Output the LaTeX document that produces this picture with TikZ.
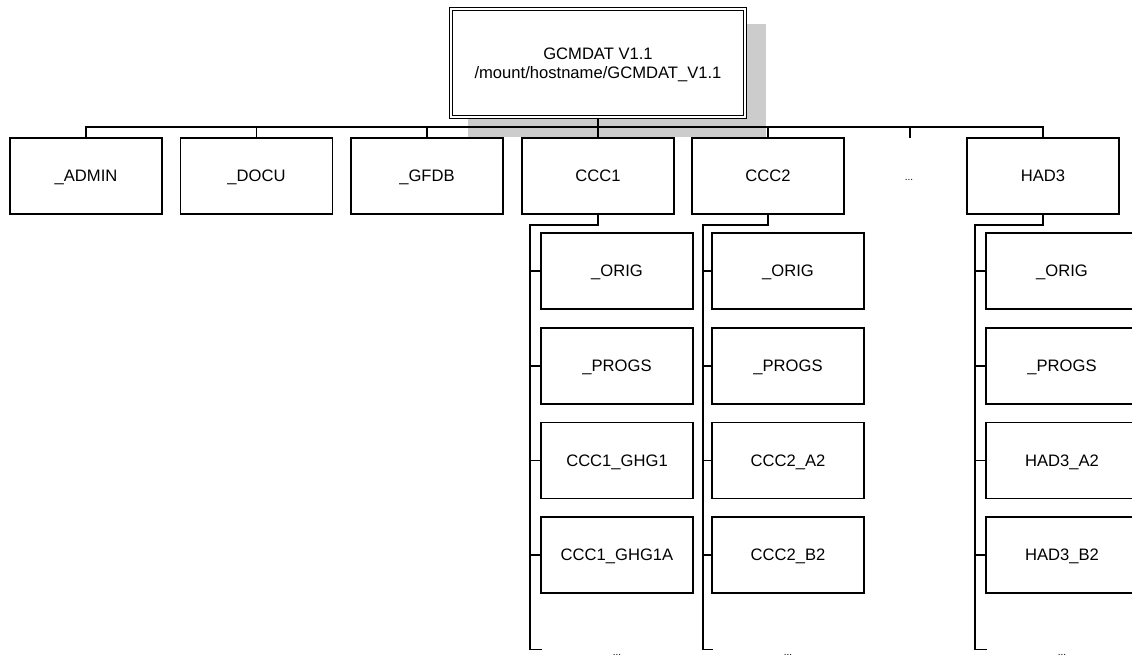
\documentclass[tikz,border=0pt]{standalone}
\usepackage{fontspec}
\setmainfont{Liberation Sans}
\definecolor{shadowc}{RGB}{204,204,204}
\begin{document}
\begin{tikzpicture}[x=1pt,y=-1pt,
  box/.style={draw, fill=white, line width=1.2pt, minimum width=152pt, minimum height=76pt,
    inner sep=0pt, text height=11.8pt, text depth=0pt, font=\fontsize{16.6}{19.5}\selectfont},
  rootbox/.style={draw, fill=white, double, line width=1.1pt, double distance=1.6pt,
    minimum width=294pt, minimum height=108pt, inner sep=0pt, align=center,
    text depth=0pt, font=\fontsize{16.6}{19.5}\selectfont},
  busline/.style={line width=1.4pt},
  trunk/.style={line width=2pt},
  branch/.style={line width=1.2pt},
  dotsn/.style={font=\fontsize{10}{12}\selectfont, inner sep=0pt, anchor=base}]
\clip (0,0) rectangle (1132,657);
\useasboundingbox (0,0) rectangle (1132,657);
% shadow of root
\fill[shadowc] (468,24) rectangle (766,137);
% root
\node[rootbox] (root) at (598,63) {GCMDAT V1.1\\/mount/hostname/GCMDAT\_V1.1};
% level 1
\node[box] (admin) at (86,176) {\_ADMIN};
\node[box] (docu) at (256.5,176) {\_DOCU};
\node[box] (gfdb) at (427,176) {\_GFDB};
\node[box] (ccc1) at (598,176) {CCC1};
\node[box] (ccc2) at (768,176) {CCC2};
\node[dotsn] (lvdots) at (909,180) {...};
\node[box] (had3) at (1043,176) {HAD3};
% bus
\coordinate (bus) at (598,127);
\draw[busline] (admin.north) |- (bus) -| (had3.north);
\draw[trunk] (root.south) -- (root.south |- bus);
\foreach \n in {docu,gfdb,ccc1,ccc2}{
  \draw[busline] (\n.north) -- (\n.north |- bus);
}
\coordinate (lvtick) at (910,138);
\draw[busline] (lvtick |- bus) -- (lvtick);
% children CCC1
\node[box] (c1a) at (617,271) {\_ORIG};
\node[box] (c1b) at (617,366) {\_PROGS};
\node[box] (c1c) at (617,460.5) {CCC1\_GHG1};
\node[box] (c1d) at (617,555) {CCC1\_GHG1A};
\node[dotsn] (c1e) at (617,655.5) {...};
\coordinate (t1) at (529.5,225);
\coordinate (e1) at (542,649.5);
\draw[trunk] (ccc1.south) |- (t1) -- (t1 |- e1);
\draw[branch] (t1 |- e1) -- (e1);
\foreach \n in {c1a,c1b,c1c,c1d}{
  \draw[branch] (\n.west) -- (\n.west -| t1);
}
% children CCC2
\node[box] (c2a) at (788,271) {\_ORIG};
\node[box] (c2b) at (788,366) {\_PROGS};
\node[box] (c2c) at (788,460.5) {CCC2\_A2};
\node[box] (c2d) at (788,555) {CCC2\_B2};
\node[dotsn] (c2e) at (788,655.5) {...};
\coordinate (t2) at (702.5,225);
\coordinate (e2) at (713,649.5);
\draw[trunk] (ccc2.south) |- (t2) -- (t2 |- e2);
\draw[branch] (t2 |- e2) -- (e2);
\foreach \n in {c2a,c2b,c2c,c2d}{
  \draw[branch] (\n.west) -- (\n.west -| t2);
}
% children HAD3
\node[box] (c3a) at (1062,271) {\_ORIG};
\node[box] (c3b) at (1062,366) {\_PROGS};
\node[box] (c3c) at (1062,460.5) {HAD3\_A2};
\node[box] (c3d) at (1062,555) {HAD3\_B2};
\node[dotsn] (c3e) at (1062,655.5) {...};
\coordinate (t3) at (975,225);
\coordinate (e3) at (987,649.5);
\draw[trunk] (had3.south) |- (t3) -- (t3 |- e3);
\draw[branch] (t3 |- e3) -- (e3);
\foreach \n in {c3a,c3b,c3c,c3d}{
  \draw[branch] (\n.west) -- (\n.west -| t3);
}
\end{tikzpicture}
\end{document}
